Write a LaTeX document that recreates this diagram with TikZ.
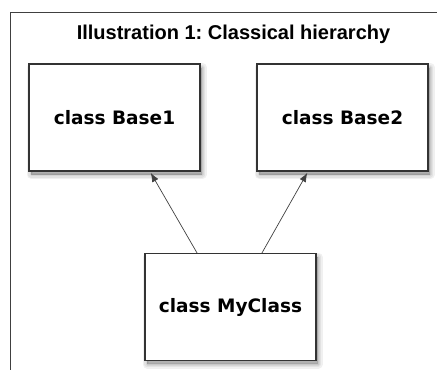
\documentclass[tikz,border=0pt]{standalone}
\usepackage{fontspec}
\setmainfont{Liberation Sans}
\newfontfamily\boxfont{DejaVu Sans}
\usetikzlibrary{arrows.meta,shadows}
\frenchspacing

\tikzset{
  softshadow/.style={general shadow={shadow xshift=2pt, shadow yshift=-3.5pt,
    fill=black, draw=black, line join=round, line width=#1, opacity=0.06}},
  classbox/.style={draw=black!80, line width=1.2pt, fill=white,
    minimum width=171pt, minimum height=107pt, inner sep=0pt,
    font=\boxfont\bfseries\fontsize{18.5}{22}\selectfont,
    softshadow=9pt, softshadow=6pt, softshadow=3pt, softshadow=0.5pt},
  inherits/.style={-{Latex[length=9pt,width=7pt]}, draw=black!75, line width=0.7pt, shorten >=1.5pt}
}

\begin{document}
\begin{tikzpicture}[x=1pt,y=-1pt]
\useasboundingbox (0,0) rectangle (437,370);
% Frame
\draw[black!75, line width=1pt] (437,12) -- (10,12) -- (10,370);

% Title
\node[font=\bfseries\fontsize{20}{24}\selectfont] (title) at (233.5,34) {Illustration 1: Classical hierarchy};

% Classes
\node[classbox] (base1) at (114.5,117.5) {class Base1};
\node[classbox] (base2) at (342.5,117.5) {class Base2};
\node[classbox] (myclass) at (230.5,307) {class MyClass};

% Inheritance arrows
\draw[inherits] ([xshift=-33.5pt]myclass.north) -- ([xshift=35.5pt]base1.south);
\draw[inherits] ([xshift=31.5pt]myclass.north) -- ([xshift=-34.5pt]base2.south);
\end{tikzpicture}
\end{document}
